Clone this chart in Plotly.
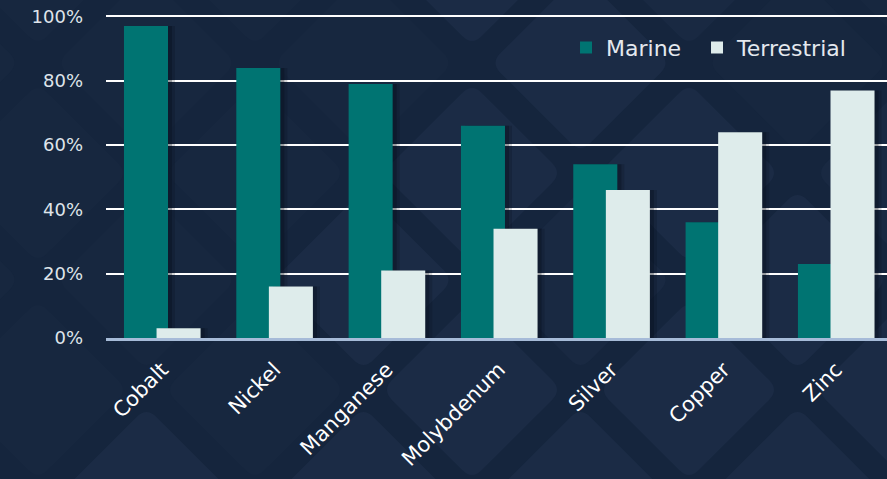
import math
import plotly.graph_objects as go

categories = ["Cobalt", "Nickel", "Manganese", "Molybdenum", "Silver", "Copper", "Zinc"]
marine = [97, 84, 79, 66, 54, 36, 23]
terrestrial = [3, 16, 21, 34, 46, 64, 77]
y_tickvals = [0, 20, 40, 60, 80, 100]
y_ticktext = ["0%", "20%", "40%", "60%", "80%", "100%"]

W, H = 887, 479
ML, MR, MT, MB = 106, 0, 10, 141
PW = W - ML - MR
PH = H - MT - MB

TEAL = "#007472"
LIGHT = "#deeceb"
BG = "#15253d"
FONT = "'DejaVu Sans', sans-serif"

BAR_W = 0.392
OFF_M = -0.34
OFF_T = -0.05
PX = 1.0 / 112.33  # category units per pixel

fig = go.Figure()

def shadow(vals, off, dx, alpha):
    return go.Bar(x=categories, y=vals, offset=off + dx * PX, width=BAR_W,
                  marker=dict(color=f"rgba(5,10,20,{alpha})", line=dict(width=0)),
                  showlegend=False, hoverinfo="skip")

fig.add_trace(shadow(marine, OFF_M, 7, 0.18))
fig.add_trace(shadow(marine, OFF_M, 4, 0.28))
fig.add_trace(go.Bar(x=categories, y=marine, name="Marine", offset=OFF_M, width=BAR_W,
                     legendwidth=86,
                     marker=dict(color=TEAL, line=dict(width=0))))
fig.add_trace(shadow(terrestrial, OFF_T, 7, 0.18))
fig.add_trace(shadow(terrestrial, OFF_T, 4, 0.28))
fig.add_trace(go.Bar(x=categories, y=terrestrial, name="Terrestrial", offset=OFF_T, width=BAR_W,
                     legendwidth=125,
                     marker=dict(color=LIGHT, line=dict(width=0))))

# decorative diamond background pattern (pixel coordinates -> paper)
def px2paper(x, y):
    return (x - ML) / PW, (MT + PH - y) / PH

def diamond_path(cx, cy, h, r):
    pts = [(cx, cy - h), (cx + h, cy), (cx, cy + h), (cx - h, cy)]
    path = ""
    n = len(pts)
    for i in range(n):
        p, prev, nxt = pts[i], pts[i - 1], pts[(i + 1) % n]
        def toward(a, b):
            dx, dy = b[0] - a[0], b[1] - a[1]
            L = math.hypot(dx, dy)
            return (a[0] + dx / L * r, a[1] + dy / L * r)
        ax, ay = px2paper(*toward(p, prev))
        bx, by = px2paper(*toward(p, nxt))
        qx, qy = px2paper(*p)
        path += ("M" if i == 0 else "L") + f"{ax:.5f},{ay:.5f} Q{qx:.5f},{qy:.5f} {bx:.5f},{by:.5f} "
    return path + "Z"

visible = {(472, 173), (580, 63), (689, 173), (472, 390), (254, 390), (146, 497),
           (363, 497), (580, 497), (797, 497), (363, 280), (797, 280), (689, 390),
           (472, -44), (906, 390)}
medium = {(580, 280), (254, 173), (906, 173), (689, -44)}
shapes = []
for m in range(-1, 10):
    cx = 38 + 108.5 * m
    base = 173 if m % 2 == 0 else 63
    for j in range(-1, 3):
        cy = base + 217 * j
        key = (int(cx + 0.5), cy)
        k2 = (int(cx), cy)
        if key in visible or k2 in visible:
            col = "#1b2b45"
        elif key in medium or k2 in medium:
            col = "#192942"
        else:
            col = "#17273f"
        shapes.append(dict(type="path", path=diamond_path(cx, cy, 90, 14),
                           xref="paper", yref="paper", layer="below",
                           fillcolor=col, line=dict(width=0)))

fig.update_layout(
    width=W, height=H,
    margin=dict(l=ML, r=MR, t=MT, b=MB, pad=0),
    paper_bgcolor=BG,
    plot_bgcolor="rgba(0,0,0,0)",
    barmode="overlay",
    font=dict(family=FONT, color="#e4e8ee", size=19),
    shapes=shapes,
    showlegend=True,
    legend=dict(orientation="h", x=0.589, xanchor="left", y=0.885, yanchor="middle",
                bgcolor="rgba(0,0,0,0)", font=dict(size=22, color="#e4e8ee", family=FONT),
                itemclick=False, itemdoubleclick=False, traceorder="normal"),
    xaxis=dict(range=[-0.5, 6.453], showgrid=False, zeroline=False,
               showline=True, linecolor="#a6bbd8", linewidth=3,
               tickangle=-45, tickfont=dict(size=21, color="#ffffff", family=FONT),
               ticks="", ticklabelstandoff=8, fixedrange=True),
    yaxis=dict(range=[0, 102], tickvals=y_tickvals, ticktext=y_ticktext,
               showgrid=True, gridcolor="#ffffff", gridwidth=2,
               zeroline=False, showline=False, ticks="",
               tickfont=dict(size=18, color="#dfe4ea", family=FONT), ticklabelstandoff=22,
               fixedrange=True),
)

fig.write_html("out.html", config={"displayModeBar": False},
               post_script="document.body.style.margin='0';")
